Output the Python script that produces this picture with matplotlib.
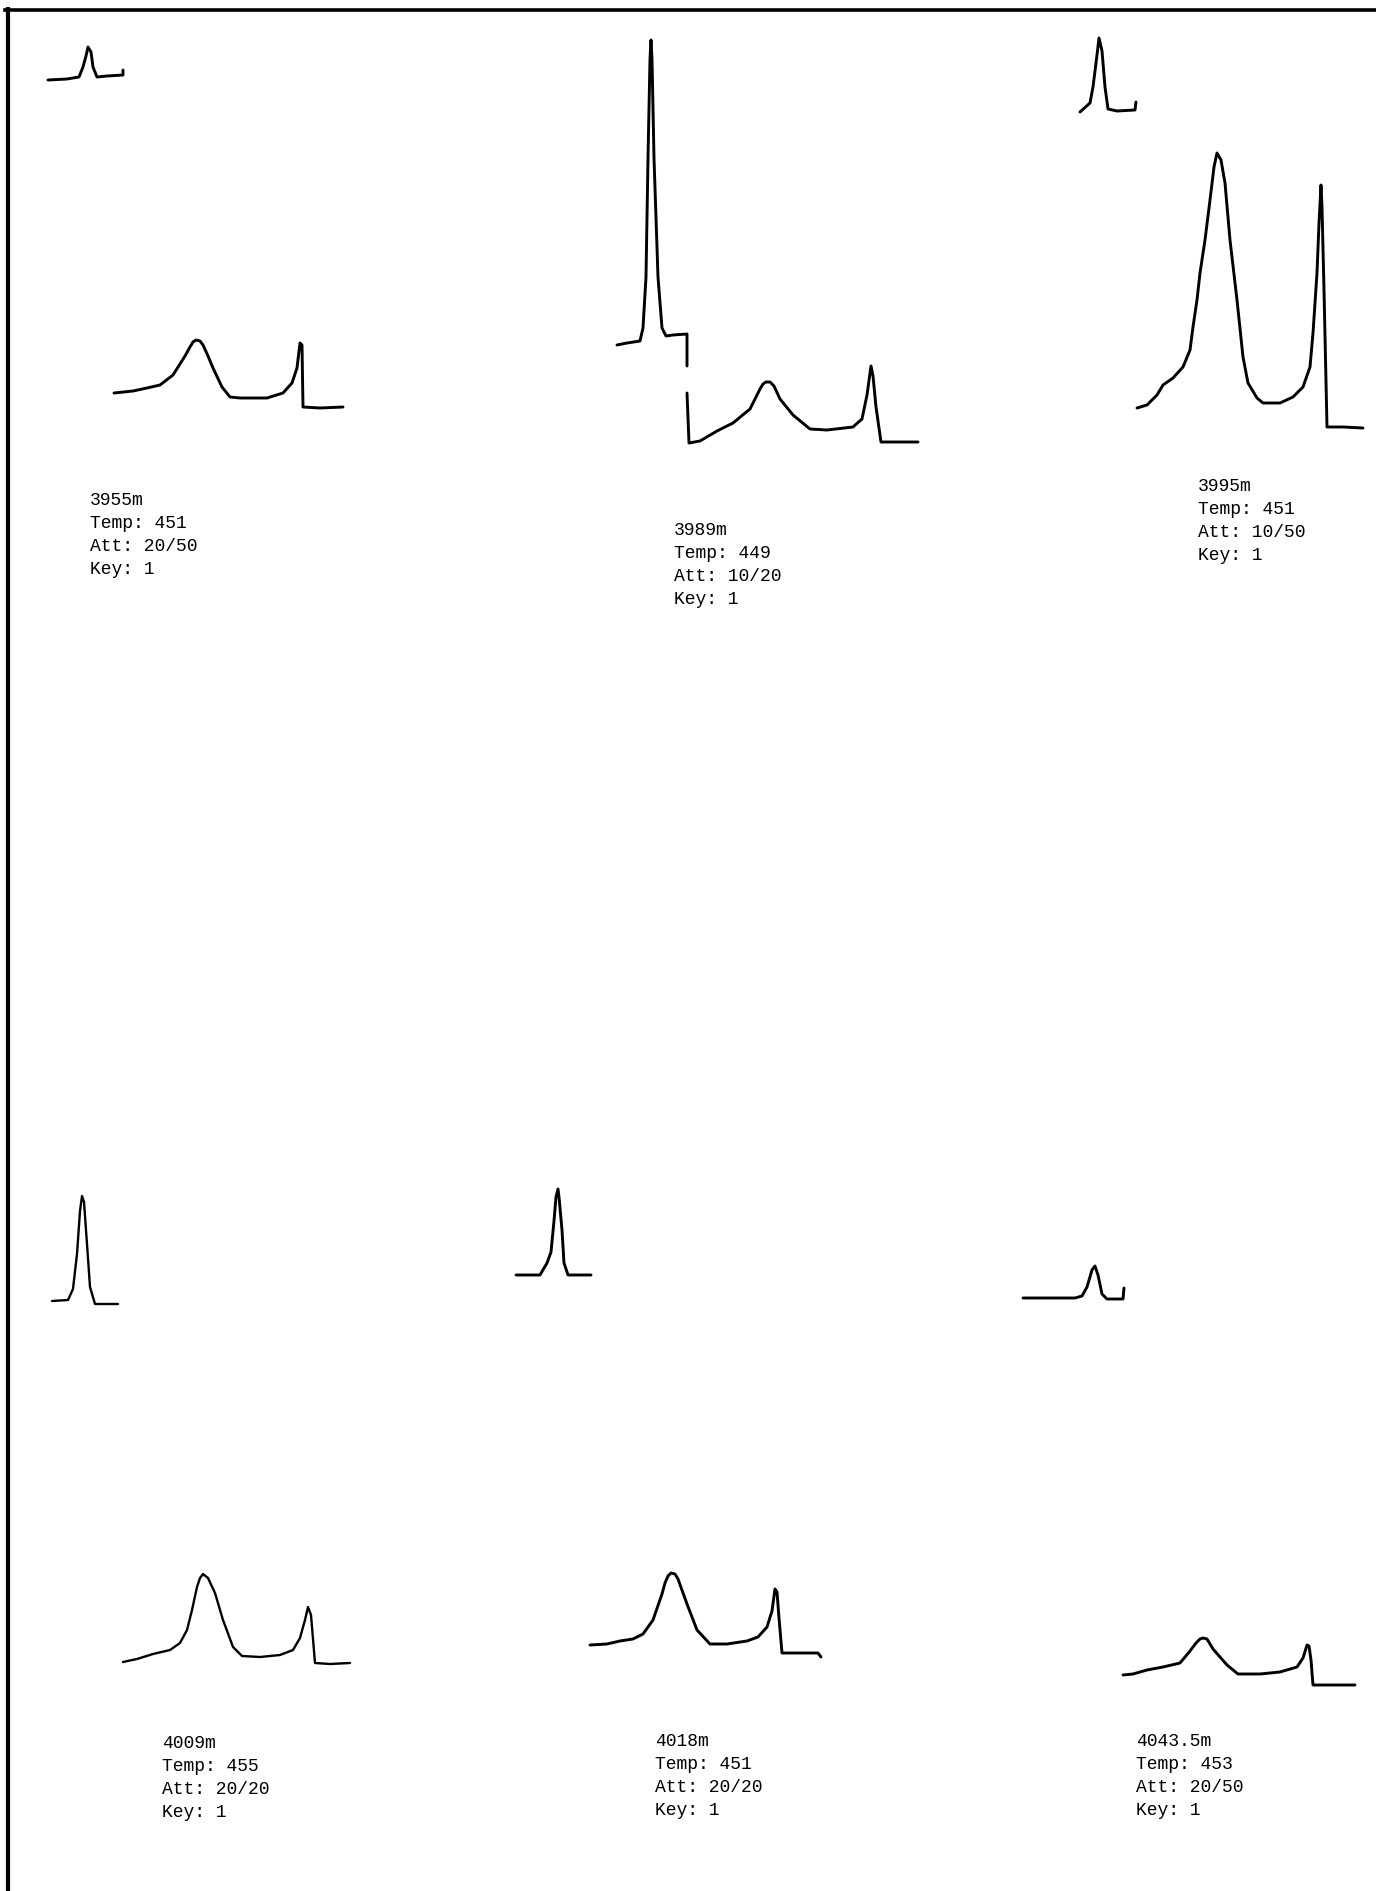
import matplotlib.pyplot as plt
from matplotlib.lines import Line2D

# sample annotations
depths = ["3955m", "3989m", "3995m", "4009m", "4018m", "4043.5m"]
temps = [451, 449, 451, 455, 451, 453]
atts = ["20/50", "10/20", "10/50", "20/20", "20/20", "20/50"]
keys = [1, 1, 1, 1, 1, 1]

# S1 traces (first small peak), local units: x = time, y = signal
s1_x = [
    [8, 27, 39, 43, 46, 48, 51, 53, 57, 67, 83, 83],
    [17, 27, 40, 43, 46, 48, 50, 51, 52, 54, 58, 62, 66, 73, 87, 87],
    [10, 20, 23, 27, 29, 32, 35, 38, 47, 65, 66],
    [12, 28, 33, 37, 40, 42, 44, 47, 50, 55, 67, 78],
    [16, 40, 47, 51, 54, 56, 58, 59, 62, 64, 68, 80, 91],
    [13, 40, 65, 72, 77, 82, 85, 88, 92, 97, 113, 114],
]
s1_y = [
    [380, 381, 383, 393, 404, 413, 408, 393, 383, 384, 385, 390],
    [115, 117, 119, 132, 183, 302, 401, 420, 401, 302, 183, 132, 124, 125, 126, 94],
    [348, 357, 373, 405, 422, 409, 373, 351, 349, 350, 358],
    [399, 400, 411, 446, 489, 504, 498, 456, 413, 396, 396, 396],
    [425, 425, 437, 448, 479, 503, 511, 503, 470, 437, 425, 425, 425],
    [402, 402, 402, 404, 413, 430, 434, 425, 406, 401, 401, 412],
]

# S2 traces (pyrolysis peak + CO2 spike)
s2_x = [
    [74, 93, 107, 120, 133, 145, 150, 153, 156, 160, 163, 168, 173, 182, 190, 200,
     227, 243, 252, 257, 260, 262, 263, 280, 303],
    [87, 89, 100, 117, 133, 150, 160, 163, 166, 170, 174, 180, 193, 210, 227, 253,
     262, 267, 271, 273, 276, 281, 293, 318],
    [67, 77, 87, 93, 103, 113, 120, 123, 127, 130, 135, 140, 144, 147, 151, 155,
     160, 167, 173, 178, 187, 193, 210, 223, 233, 240, 243, 247, 249, 251, 252,
     254, 257, 273, 293],
    [83, 97, 113, 130, 140, 147, 152, 157, 160, 163, 168, 175, 183, 193, 202, 220,
     240, 253, 260, 265, 268, 271, 275, 290, 310],
    [90, 107, 120, 133, 143, 153, 162, 165, 168, 171, 175, 178, 187, 197, 210, 227,
     247, 258, 267, 272, 275, 277, 279, 282, 300, 318, 321],
    [113, 123, 137, 153, 170, 180, 186, 190, 193, 197, 203, 217, 228, 250, 270, 287,
     293, 297, 299, 301, 303, 323, 345],
]
s2_y = [
    [67, 69, 72, 75, 85, 104, 113, 118, 120, 119, 115, 104, 92, 73, 63, 62,
     62, 67, 77, 92, 117, 115, 53, 52, 53],
    [67, 17, 19, 29, 37, 51, 71, 76, 78, 78, 74, 61, 45, 31, 30, 33,
     41, 65, 94, 84, 53, 18, 18, 18],
    [52, 55, 65, 75, 82, 93, 110, 133, 160, 187, 220, 260, 293, 307, 300, 277,
     220, 160, 103, 77, 62, 57, 57, 63, 73, 93, 127, 187, 237, 275, 253,
     170, 33, 33, 32],
    [38, 41, 46, 50, 57, 70, 90, 113, 122, 126, 122, 107, 80, 53, 44, 43,
     45, 50, 62, 80, 93, 85, 37, 36, 37],
    [55, 56, 59, 61, 66, 80, 106, 117, 124, 127, 126, 121, 96, 70, 56, 56,
     59, 63, 73, 89, 111, 108, 82, 47, 47, 47, 43],
    [25, 26, 30, 33, 37, 49, 57, 61, 62, 61, 51, 35, 26, 26, 28, 33,
     42, 55, 54, 40, 15, 15, 15],
]

W, H = 1376, 1891
fig = plt.figure(figsize=(W / 100, H / 100), dpi=100)

# page frame (top and left edge of the scanned sheet)
fig.add_artist(Line2D([5 / W, 1], [1 - 10 / H, 1 - 10 / H], color="black", lw=2.6))
fig.add_artist(Line2D([8 / W, 8 / W], [0, 1 - 9 / H], color="black", lw=3.0))

# panel origins in page pixels and label anchors (local units)
origins = [(40, 460), (600, 460), (1070, 460), (40, 1700), (500, 1700), (1010, 1700)]
label_pos = [(50, -45), (74, -75), (128, -31), (122, -48), (155, -46), (126, -46)]
ylims = [(-120, 455), (-120, 455), (-120, 455), (-180, 520), (-180, 520), (-180, 520)]
pw = 380

for i in range(6):
    ox, oy = origins[i]
    ylo, yhi = ylims[i]
    ax = fig.add_axes([ox / W, (H - (oy - ylo)) / H, pw / W, (yhi - ylo) / H])
    ax.set_xlim(0, pw)
    ax.set_ylim(ylo, yhi)
    ax.axis("off")
    lw = 1.7 if i == 3 else 2.1
    ax.plot(s1_x[i], s1_y[i], color="black", lw=lw, solid_joinstyle="round",
            solid_capstyle="round")
    ax.plot(s2_x[i], s2_y[i], color="black", lw=lw, solid_joinstyle="round",
            solid_capstyle="round")

    lines = [depths[i], f"Temp: {temps[i]}", f"Att: {atts[i]}", f"Key: {keys[i]}"]
    tx, ty = label_pos[i]
    for j, s in enumerate(lines):
        ax.text(tx, ty - 23 * j, s, family=["Liberation Mono", "DejaVu Sans Mono"],
                fontsize=13, va="baseline", ha="left", color="black")

plt.savefig("out.png", dpi=100)
